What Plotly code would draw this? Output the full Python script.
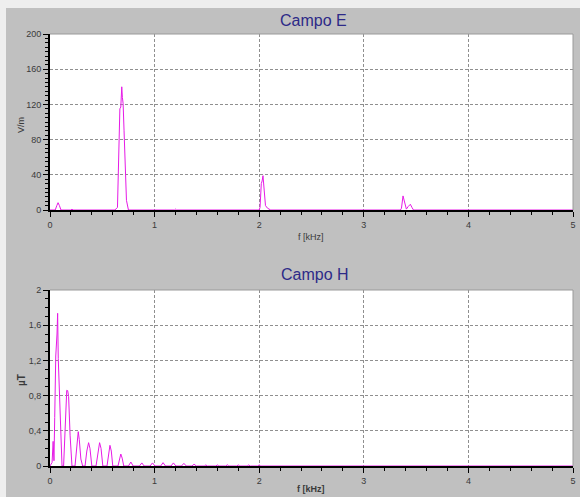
import plotly.graph_objects as go

# ---------------- data ----------------
e_freq = [0.000, 0.050, 0.065, 0.077, 0.090, 0.105, 0.200, 0.210, 0.220,
          0.620, 0.645, 0.661, 0.668, 0.677, 0.686, 0.692, 0.699, 0.708, 0.718, 0.731, 0.750,
          1.190, 1.200, 1.210,
          2.000, 2.008, 2.020, 2.028, 2.036, 2.046, 2.060, 2.080, 2.110,
          3.350, 3.360, 3.375, 3.390, 3.407, 3.425, 3.445, 3.460, 3.475,
          5.000]
e_vals = [0, 0, 5, 8.3, 5, 0, 0, 1, 0,
          0, 3, 64, 115, 117, 140, 128, 121, 90, 45, 11, 0,
          0, 1, 0,
          0, 3, 30, 33, 39, 25, 5, 2, 0,
          0, 2, 16, 8, 1, 4, 6.5, 3, 0,
          0]

h_freq = [0.000, 0.020, 0.030, 0.038, 0.045, 0.055, 0.067, 0.073, 0.079, 0.092, 0.105, 0.115,
          0.130, 0.145, 0.153, 0.160, 0.169, 0.178, 0.192, 0.210,
          0.239, 0.255, 0.270, 0.280, 0.295, 0.312,
          0.335, 0.352, 0.369, 0.382, 0.400,
          0.440, 0.458, 0.474, 0.488, 0.505,
          0.545, 0.560, 0.573, 0.586, 0.600,
          0.650, 0.665, 0.677, 0.690, 0.705,
          0.750, 0.773, 0.795,
          0.855, 0.878, 0.900,
          0.957, 0.980, 1.003,
          1.058, 1.081, 1.104,
          1.157, 1.180, 1.203,
          1.257, 1.280, 1.303,
          1.357, 1.377, 1.400,
          1.475, 1.490, 1.505,
          1.585, 1.600, 1.615,
          1.680, 1.695, 1.710,
          1.785, 1.800, 1.815,
          1.885, 1.900, 1.915,
          1.985, 2.000, 2.015,
          2.340, 2.350, 2.360,
          2.480, 2.490, 2.500,
          5.000]
h_vals = [0, 0.04, 0.28, 0.06, 0.55, 1.25, 1.50, 1.735, 1.22, 0.81, 0.30, 0,
          0, 0.55, 0.80, 0.86, 0.856, 0.79, 0.35, 0,
          0, 0.22, 0.39, 0.30, 0.08, 0,
          0, 0.17, 0.265, 0.20, 0,
          0, 0.17, 0.265, 0.20, 0,
          0, 0.15, 0.235, 0.17, 0,
          0, 0.09, 0.136, 0.09, 0,
          0, 0.045, 0,
          0, 0.035, 0,
          0, 0.035, 0,
          0, 0.038, 0,
          0, 0.035, 0,
          0, 0.030, 0,
          0, 0.020, 0,
          0, 0.012, 0,
          0, 0.012, 0,
          0, 0.014, 0,
          0, 0.012, 0,
          0, 0.012, 0,
          0, 0.012, 0,
          0, 0.006, 0,
          0, 0.006, 0,
          0]

x_ticks = [0, 1, 2, 3, 4, 5]
x_labels = ["0", "1", "2", "3", "4", "5"]
e_ticks = [0, 40, 80, 120, 160, 200]
e_labels = ["0", "40", "80", "120", "160", "200"]
h_ticks = [0, 0.4, 0.8, 1.2, 1.6, 2]
h_labels = ["0", "0,4", "0,8", "1,2", "1,6", "2"]

titles = ["Campo E", "Campo H"]
x_title = "f [kHz]"
e_unit = "V/m"
h_unit = "µT"

# ---------------- layout helpers ----------------
W, H = 580, 497
def px(x):
    return x / W
def py(y):
    return 1 - y / H

LINE = "#e61ae6"
FONT = "Liberation Sans, Arial, sans-serif"
TICKFONT = dict(family=FONT, size=9, color="#3a3a3a")
GRID = "#8f8f8f"

def xaxis_cfg(dom, anchor):
    return dict(domain=dom, anchor=anchor, range=[0, 5], tickvals=x_ticks, ticktext=x_labels,
                ticks="outside", ticklen=5, tickwidth=1, tickcolor="black",
                showline=True, linecolor="black", linewidth=2,
                showgrid=True, gridcolor=GRID, gridwidth=1, griddash="3px,2px",
                zeroline=False, tickfont=TICKFONT, automargin=False,
                minor=dict(dtick=0.2, ticks="outside", ticklen=3, tickcolor="black",
                           tickwidth=1, showgrid=False),
                fixedrange=True)

def yaxis_cfg(dom, anchor, rng, tv, tt, mdt):
    return dict(domain=dom, anchor=anchor, range=rng, tickvals=tv, ticktext=tt,
                ticks="outside", ticklen=5, tickwidth=1, tickcolor="black",
                showline=True, linecolor="black", linewidth=2,
                showgrid=True, gridcolor=GRID, gridwidth=1, griddash="3px,2px",
                zeroline=False, tickfont=TICKFONT, automargin=False,
                minor=dict(dtick=mdt, ticks="outside", ticklen=3, tickcolor="black",
                           tickwidth=1, showgrid=False),
                fixedrange=True)

fig = go.Figure()
fig.add_trace(go.Scatter(x=e_freq, y=e_vals, xaxis="x", yaxis="y", mode="lines",
                         line=dict(color=LINE, width=1), showlegend=False,
                         cliponaxis=True))
fig.add_trace(go.Scatter(x=h_freq, y=h_vals, xaxis="x2", yaxis="y2", mode="lines",
                         line=dict(color=LINE, width=1), showlegend=False,
                         cliponaxis=True))

top_y = [py(210), py(34)]
bot_y = [py(466), py(290)]
xdom = [px(50), px(573)]

shapes = [
    dict(type="rect", xref="paper", yref="paper", x0=0, x1=1, y0=py(8), y1=1,
         fillcolor="#eeeeee", line=dict(width=0), layer="below"),
    dict(type="rect", xref="paper", yref="paper", x0=0, x1=px(6), y0=0, y1=1,
         fillcolor="#eeeeee", line=dict(width=0), layer="below"),
]
for xa, ya in (("x", "y"), ("x2", "y2")):
    shapes.append(dict(type="line", xref=f"{xa} domain", yref=f"{ya} domain",
                       x0=0, x1=1, y0=1, y1=1, line=dict(color="#9a9a9a", width=1)))
    shapes.append(dict(type="line", xref=f"{xa} domain", yref=f"{ya} domain",
                       x0=1, x1=1, y0=0, y1=1, line=dict(color="#9a9a9a", width=1)))

TITLEFONT = dict(family=FONT, size=16, color="#2d2a88")
LABFONT = dict(family=FONT, size=9, color="#3a3a3a")
annotations = [
    dict(text=titles[0], x=px(313), y=py(21), xref="paper", yref="paper",
         showarrow=False, font=TITLEFONT, xanchor="center", yanchor="middle"),
    dict(text=titles[1], x=px(315), y=py(274), xref="paper", yref="paper",
         showarrow=False, font=TITLEFONT, xanchor="center", yanchor="middle"),
    dict(text=x_title, x=px(311), y=py(237), xref="paper", yref="paper",
         showarrow=False, font=LABFONT, xanchor="center", yanchor="middle"),
    dict(text="<b>" + x_title + "</b>", x=px(311), y=py(489), xref="paper", yref="paper",
         showarrow=False, font=LABFONT, xanchor="center", yanchor="middle"),
    dict(text=e_unit, x=px(21), y=py(125), xref="paper", yref="paper", textangle=-90,
         showarrow=False, font=LABFONT, xanchor="center", yanchor="middle"),
    dict(text="<b>" + h_unit + "</b>", x=px(21), y=py(380), xref="paper", yref="paper",
         textangle=-90, showarrow=False, font=dict(family=FONT, size=10, color="#3a3a3a"),
         xanchor="center", yanchor="middle"),
]

fig.update_layout(
    template="none",
    width=W, height=H,
    margin=dict(l=0, r=0, t=0, b=0, pad=0),
    paper_bgcolor="#c0c0c0",
    plot_bgcolor="white",
    showlegend=False,
    xaxis=xaxis_cfg(xdom, "y"),
    yaxis=yaxis_cfg(top_y, "x", [0, 200], e_ticks, e_labels, 5),
    xaxis2=xaxis_cfg(xdom, "y2"),
    yaxis2=yaxis_cfg(bot_y, "x2", [0, 2], h_ticks, h_labels, 0.1),
    shapes=shapes,
    annotations=annotations,
)

fig.write_html(
    "out.html",
    config={"displayModeBar": False},
    post_script="document.body.style.margin='0';document.body.style.padding='0';"
                "document.body.style.overflow='hidden';",
)
